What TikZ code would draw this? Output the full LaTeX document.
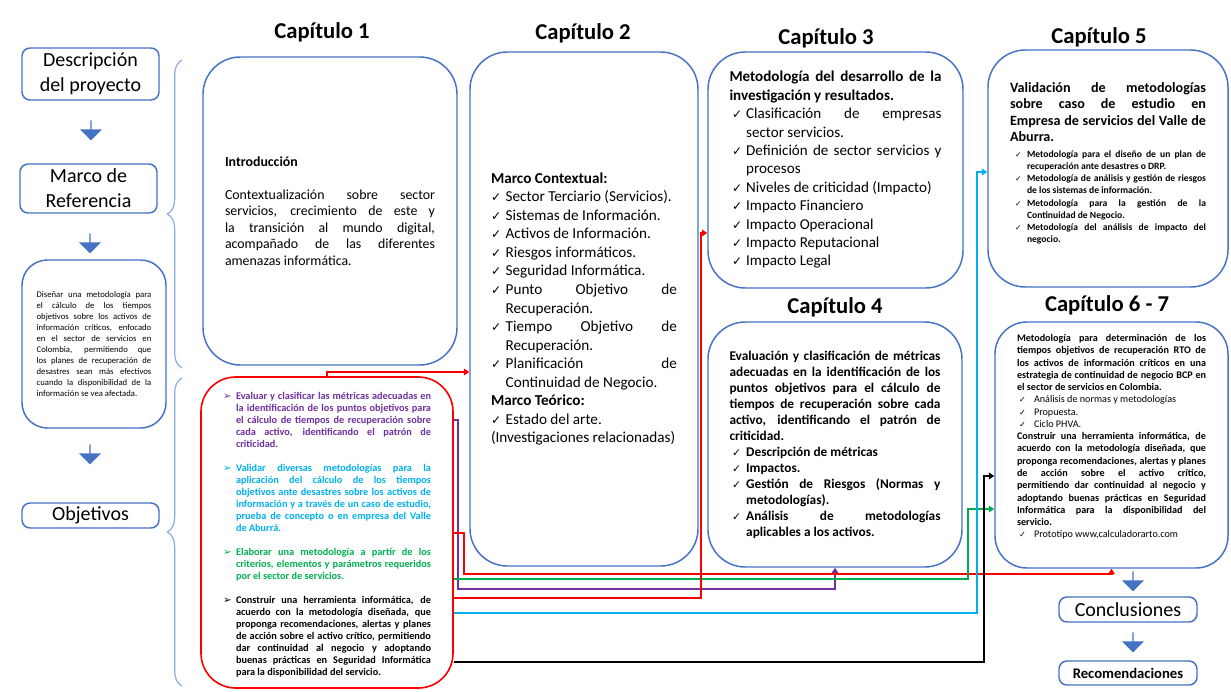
\documentclass[tikz,border=0pt]{standalone}
\usepackage{fontspec}
\setmainfont{Carlito}
\newfontfamily\symfont{DejaVu Sans}
\usetikzlibrary{arrows.meta, calc, positioning, shapes.arrows, decorations.pathreplacing}
\definecolor{azulc}{HTML}{4472C4}
\definecolor{azull}{HTML}{8FAADC}
\definecolor{moradc}{HTML}{7030A0}
\definecolor{cianc}{HTML}{00B0F0}
\definecolor{verdec}{HTML}{00B050}
\definecolor{rojoc}{HTML}{FF0000}
\hyphenpenalty=10000
\exhyphenpenalty=10000
\tolerance=9999
\emergencystretch=2em
\newcommand{\chk}[2][0pt]{\par\noindent\hangindent=#2\hangafter=1\makebox[#2][l]{\hspace*{#1}\scalebox{0.8}{\symfont ✓}}}
\newcommand{\punta}{\par\noindent\hangindent=9.75pt\hangafter=1\makebox[9.75pt][l]{\scalebox{1}{\symfont ➢}}}

\begin{document}
\begin{tikzpicture}[x=0.75pt, y=-0.75pt,
        caja/.style={draw=azulc, line width=1.1pt, rounded corners=28pt, inner sep=0pt, align=justify},
        cajita/.style={draw=azulc, line width=1.1pt, rounded corners=6pt, inner sep=0pt, align=center, font=\fontsize{15}{18.75}\selectfont},
        titulo/.style={font=\fontsize{17}{20}\selectfont\bfseries},
        bajada/.style={single arrow, rotate=-90, fill=azulc, inner sep=0pt, minimum width=16.5pt, minimum height=15pt, single arrow head extend=3pt},
        llave/.style={decorate, decoration={brace, amplitude=11pt}, draw=azull, line width=0.9pt},
        conector/.style={line width=2.1pt, -{Triangle[length=4pt, width=5pt]}}]
    \useasboundingbox (0,0) rectangle (1231,692);
    \fill[white] (0,0) rectangle (1231,692);

    % columna izquierda
    \node[cajita, minimum width=102.75pt, minimum height=39pt] (desc) at (90.5,74) {Descripción\\del proyecto};
    \node[cajita, minimum width=102.75pt, minimum height=36.75pt] (marco) at (88.5,188.5) {Marco de\\Referencia};
    \node[caja, rounded corners=19pt, minimum width=108pt, minimum height=126pt, text width=86pt, font=\fontsize{6.5}{8.25}\selectfont] (diseno) at (94,344) {Diseñar una metodología para\linebreak el cálculo de los tiempos\linebreak objetivos sobre los activos de\linebreak información críticos, enfocado\linebreak en el sector de servicios en\linebreak Colombia, permitiendo que\linebreak los planes de recuperación de\linebreak desastres sean más efectivos\linebreak cuando la disponibilidad de la\linebreak información se vea afectada.};
    \node[cajita, minimum width=102.75pt, minimum height=18.75pt] (objetivos) at (90.5,515.5) {Objetivos};
    \node[bajada] (b1) at (91,130) {};
    \node[bajada] (b2) at (90,243) {};
    \node[bajada] (b3) at (90,454) {};

    \draw[llave] (182,368) -- (182,60);
    \draw[llave] (182,686) -- (182,378);

    % capitulos
    \node[titulo] (t1) at (322,32) {Capítulo 1};
    \node[titulo] (t2) at (583,33) {Capítulo 2};
    \node[titulo] (t3) at (826,38) {Capítulo 3};
    \node[titulo] (t4) at (835,307) {Capítulo 4};
    \node[titulo] (t5) at (1099,37) {Capítulo 5};
    \node[titulo] (t67) at (1107,305) {Capítulo 6 - 7};

    \node[caja, minimum width=190.5pt, minimum height=231pt, text width=157.5pt, font=\fontsize{10.4}{12.4}\selectfont] (cap1) at (330,211) {\textbf{Introducción}\par\vspace{12.4pt}Contextualización sobre sector servicios, crecimiento de este y la transición al mundo digital, acompañado de las diferentes amenazas informática.};

    \node[caja, minimum width=171pt, minimum height=385.5pt, text width=139.5pt, font=\fontsize{11.4}{13.9}\selectfont] (cap2) at (584,309) {\textbf{Marco Contextual:}
        \chk{11pt}Sector Terciario (Servicios).
        \chk{11pt}Sistemas de Información.
        \chk{11pt}Activos de Información.
        \chk{11pt}Riesgos informáticos.
        \chk{11pt}Seguridad Informática.
        \chk{11pt}Punto Objetivo de Recuperación.
        \chk{11pt}Tiempo Objetivo de Recuperación.
        \chk{11pt}Planificación de Continuidad de Negocio.
        \par\noindent\textbf{Marco Teórico:}
        \chk{11pt}Estado del arte.
        \par\noindent(Investigaciones relacionadas)};

    \node[caja, minimum width=191.25pt, minimum height=177pt, text width=159pt, font=\fontsize{11.3}{13.8}\selectfont] (cap3) at (835.5,170) {\textbf{Metodología del desarrollo de la investigación y resultados.}
        \chk[2pt]{12.5pt}Clasificación de empresas\linebreak sector servicios.
        \chk[2pt]{12.5pt}Definición de sector servicios y procesos
        \chk[2pt]{12.5pt}Niveles de criticidad (Impacto)
        \chk[2pt]{12.5pt}Impacto Financiero
        \chk[2pt]{12.5pt}Impacto Operacional
        \chk[2pt]{12.5pt}Impacto Reputacional
        \chk[2pt]{12.5pt}Impacto Legal\par};

    \node[caja, minimum width=190.5pt, minimum height=183.75pt, text width=158.25pt, font=\fontsize{10}{12}\selectfont\bfseries] (cap4) at (835,444.5) {Evaluación y clasificación de métricas adecuadas en la identificación de los puntos objetivos para el cálculo de tiempos de recuperación sobre cada activo, identificando el patrón de criticidad.
        \chk[2pt]{12.5pt}Descripción de métricas
        \chk[2pt]{12.5pt}Impactos.
        \chk[2pt]{12.5pt}Gestión de Riesgos (Normas y metodologías).
        \chk[2pt]{12.5pt}Análisis de metodologías\linebreak aplicables a los activos.\par};

    \node[caja, minimum width=180pt, minimum height=177.75pt, text width=147pt, font=\fontsize{10.6}{12.25}\selectfont\bfseries] (cap5) at (1108,168.5) {Validación de metodologías\linebreak sobre caso de estudio en\linebreak Empresa de servicios del Valle de\linebreak Aburra.\par\vspace{3pt}
        \fontsize{7.2}{9.1}\selectfont
        \chk[3.75pt]{12.75pt}Metodología para el diseño de un plan de recuperación ante desastres o DRP.
        \chk[3.75pt]{12.75pt}Metodología de análisis y gestión de riesgos de los sistemas de información.
        \chk[3.75pt]{12.75pt}Metodología para la gestión de la Continuidad de Negocio.
        \chk[3.75pt]{12.75pt}Metodología del análisis de impacto del negocio.
        \par\noindent\rule{0pt}{3.5pt}\par};

    \node[caja, rounded corners=24pt, minimum width=174.75pt, minimum height=184.5pt, text width=141.75pt, font=\fontsize{7.6}{9.19}\selectfont] (cap67) at (1111.5,445) {\textbf{Metodología para determinación de los\linebreak tiempos objetivos de recuperación RTO de\linebreak los activos de información críticos en una\linebreak estrategia de continuidad de negocio BCP en\linebreak el sector de servicios en Colombia.}
        \chk[1.5pt]{12.75pt}Análisis de normas y metodologías
        \chk[1.5pt]{12.75pt}Propuesta.
        \chk[1.5pt]{12.75pt}Ciclo PHVA.
        \par\noindent\textbf{Construir una herramienta informática, de\linebreak acuerdo con la metodología diseñada, que\linebreak proponga recomendaciones, alertas y planes\linebreak de acción sobre el activo crítico,\linebreak permitiendo dar continuidad al negocio y\linebreak adoptando buenas prácticas en Seguridad\linebreak Informática para la disponibilidad del\linebreak servicio.}
        \chk[1.5pt]{12.75pt}Prototipo www,calculadorarto.com
        \par\noindent\rule{0pt}{11pt}\par};

    \node[cajita, minimum width=103.5pt, minimum height=18.75pt] (concl) at (1128,609.5) {Conclusiones};
    \node[cajita, minimum width=103.5pt, minimum height=18pt, font=\fontsize{11}{13}\selectfont\bfseries] (recom) at (1128,673) {Recomendaciones};
    \node[bajada] (b4) at (1133,581) {};
    \node[bajada] (b5) at (1133,642) {};

    % objetivos
    \node[caja, draw=rojoc, line width=1.2pt, rounded corners=26pt, minimum width=189pt, minimum height=233.25pt, text width=156pt, font=\fontsize{7.7}{9}\selectfont\bfseries] (objbox) at (327,532.5) {%
        {\color{moradc}\punta Evaluar y clasificar las métricas adecuadas en\linebreak la identificación de los puntos objetivos para\linebreak el cálculo de tiempos de recuperación sobre\linebreak cada activo, identificando el patrón de\linebreak criticidad.\par}\vspace{9pt}
        {\color{cianc}\punta Validar diversas metodologías para la aplicación del cálculo de los tiempos objetivos ante desastres sobre los activos de información y a través de un caso de estudio, prueba de concepto o en empresa del Valle de Aburrá.\par}\vspace{9pt}
        {\color{verdec}\punta Elaborar una metodología a partir de los criterios, elementos y parámetros requeridos por el sector de servicios.\par}\vspace{9pt}
        {\color{black}\punta Construir una herramienta informática, de acuerdo con la metodología diseñada, que proponga recomendaciones, alertas y planes de acción sobre el activo crítico, permitiendo dar continuidad al negocio y adoptando buenas prácticas en Seguridad Informática para la disponibilidad del servicio.\par}};

    \draw[conector, rojoc] (objbox.north) |- (cap2.west |- 0,372);
    \draw[conector, moradc] (objbox.east |- 0,420) -| (458,589) -| (cap4.south);
    \draw[conector, rojoc] (objbox.east |- 0,533) -| (464,574) -| (cap67.south);
    \draw[conector, verdec] (objbox.east |- 0,579) -| (968,509) -- (cap67.west |- 0,509);
    \draw[conector, rojoc] (objbox.east |- 0,598) -| (701,233) -- (cap3.west |- 0,233);
    \draw[conector, cianc] (objbox.east |- 0,613) -| (977,172) -- (cap5.west |- 0,172);
    \draw[conector, black] (objbox.east |- 0,662) -| (984,476) -- (cap67.west |- 0,476);
\end{tikzpicture}
\end{document}
